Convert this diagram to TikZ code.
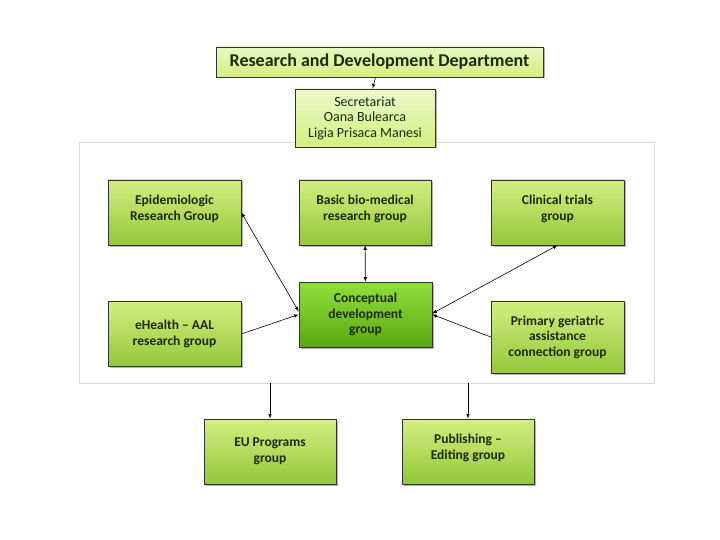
\documentclass[tikz,border=0pt]{standalone}
\usepackage{fontspec}
\setmainfont{Carlito}
\usetikzlibrary{shadows}
\definecolor{txt}{HTML}{1E2A0A}
\definecolor{ltop}{HTML}{D4EE80}
\definecolor{lbot}{HTML}{92C83A}
\definecolor{ctop}{HTML}{8EE03A}
\definecolor{cbot}{HTML}{5AA814}
\tikzset{
 box/.style={draw=black!80, line width=0.6pt, top color=ltop, bottom color=lbot, drop shadow={shadow xshift=1.5pt,shadow yshift=-1.5pt,opacity=0.6},
   align=center, text=txt, font=\bfseries\fontsize{13.5}{15.5}\selectfont, inner sep=0pt},
 toptext/.style={anchor=north, align=center, text=txt, font=\bfseries\fontsize{13.5}{15.5}\selectfont, yshift=-12pt},
 arr/.style={-latex, line width=0.6pt},
 darr/.style={latex-latex, line width=0.6pt}
}
\begin{document}
\begin{tikzpicture}[x=1pt,y=-1pt]
\useasboundingbox (0,0) rectangle (720,540);
\draw[black!15, line width=1pt] (79,143) rectangle (654,383);
\node[box, minimum width=327pt, minimum height=30pt, top color=ltop!50!white, bottom color=ltop, font=\bfseries\fontsize{18}{20}\selectfont] (rd) at (379.5,62) {Research and Development Department};
\node[box, minimum width=140pt, minimum height=58pt, top color=ltop!40!white, bottom color=ltop, font=\fontsize{14}{15.5}\selectfont] (sec) at (365,118) {Secretariat\\Oana Bulearca\\Ligia Prisaca Manesi};
\node[box, minimum width=133pt, minimum height=65pt, label={[toptext]north:Epidemiologic\\Research Group}] (epi) at (174.5,212.5) {};
\node[box, minimum width=132pt, minimum height=65pt, label={[toptext]north:Basic bio-medical\\research group}] (bas) at (365,212.5) {};
\node[box, minimum width=133pt, minimum height=65pt, label={[toptext]north:Clinical trials\\group}] (cli) at (557.5,212.5) {};
\node[box, top color=ctop, bottom color=cbot, minimum width=133pt, minimum height=65pt] (con) at (365.5,314.5) {Conceptual\\development\\group};
\node[box, minimum width=133pt, minimum height=65pt] (eh) at (174.5,334) {eHealth -- AAL\\research group};
\node[box, minimum width=133pt, minimum height=72pt] (pri) at (557.5,337) {Primary geriatric\\assistance\\connection group};
\node[box, minimum width=132pt, minimum height=65pt] (eu) at (270,451.5) {EU Programs\\group};
\node[box, minimum width=132pt, minimum height=65pt, label={[toptext]north:Publishing --\\Editing group}] (pub) at (468,451.5) {};
\coordinate (f1) at (270,383);
\coordinate (f2) at (468,383);
\draw[arr] (rd) -- (sec);
\draw[darr] (bas) -- (con);
\draw[darr] (epi.east) -- ([yshift=3pt]con.west);
\draw[arr] (eh.east) -- (con.west);
\draw[darr] (cli.south) -- ([yshift=1pt]con.east);
\draw[arr] (pri.west) -- (con.east);
\draw[arr] (f1) -- (eu);
\draw[arr] (f2) -- (pub);
\end{tikzpicture}
\end{document}
